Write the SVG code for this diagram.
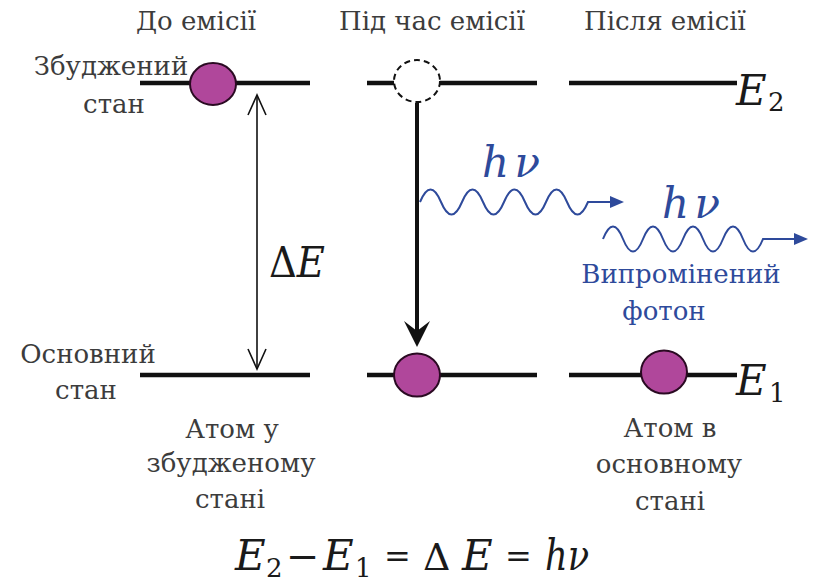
<svg xmlns="http://www.w3.org/2000/svg" width="817" height="582" viewBox="0 0 817 582">
<style>
text{font-family:'DejaVu Serif','Liberation Serif',serif}
.lbl{font-size:26px;fill:#3c3c3c;text-anchor:middle}
.math{font-style:italic;fill:#1a1a1a}
.up{fill:#1a1a1a}
.blue{fill:#2e4a9b}
.lvl{stroke:#111;stroke-width:4.5;fill:none}
.atom{fill:#b0479b;stroke:#2a0a22;stroke-width:2}
.wave{fill:none;stroke:#2e4a9b;stroke-width:2}
</style>
<rect width="817" height="582" fill="#fff"/>
<g id="titles">
<text class="lbl" x="196" y="30">До емісії</text>
<text class="lbl" x="432" y="30">Під час емісії</text>
<text class="lbl" x="665" y="30">Після емісії</text>
</g>
<g id="excited-label">
<text class="lbl" x="111" y="75">Збуджений</text>
<text class="lbl" x="114" y="113">стан</text>
</g>
<g id="ground-label">
<text class="lbl" x="88" y="363">Основний</text>
<text class="lbl" x="86" y="399">стан</text>
</g>
<g id="levels">
<line class="lvl" x1="140" y1="83" x2="310" y2="83"/>
<line class="lvl" x1="367" y1="83" x2="394" y2="83"/>
<line class="lvl" x1="440" y1="83" x2="537" y2="83"/>
<line class="lvl" x1="569" y1="83" x2="737" y2="83"/>
<line class="lvl" x1="140" y1="375" x2="310" y2="375"/>
<line class="lvl" x1="367" y1="375" x2="537" y2="375"/>
<line class="lvl" x1="569" y1="375" x2="737" y2="375"/>
</g>
<g id="E2-label">
<text class="math" x="736" y="105" font-size="42">E</text><text class="up" x="768" y="111" font-size="26">2</text>
</g>
<g id="E1-label">
<text class="math" x="736" y="395" font-size="42">E</text><text class="up" x="769" y="402" font-size="26">1</text>
</g>
<g id="atom-before">
<ellipse class="atom" cx="213" cy="84" rx="23" ry="21"/>
</g>
<g id="atom-during-top">
<ellipse cx="417" cy="81" rx="23" ry="21" fill="#fff" stroke="#111" stroke-width="2" stroke-dasharray="6,4"/>
</g>
<g id="atom-during-bottom">
<ellipse class="atom" cx="417" cy="375" rx="23" ry="21.5"/>
</g>
<g id="atom-after">
<ellipse class="atom" cx="664" cy="372" rx="23" ry="21.5"/>
</g>
<g id="connectors">
<g id="deltaE-arrow" stroke="#111" stroke-width="1.6" fill="none">
<line x1="257" y1="96" x2="257" y2="369"/>
<polyline points="248,115 257,95 266,115"/>
<polyline points="248,349 257,369 266,349"/>
</g>
<g id="transition-arrow">
<line x1="417" y1="103" x2="417" y2="335" stroke="#111" stroke-width="4"/>
<polygon points="417,347 404,321 417,331 430,321" fill="#111"/>
</g>
<g id="photon1">
<path class="wave" d="M420,202 q10.5,-25 21,0 t21,0 t21,0 t21,0 t21,0 t21,0 t21,0 t21,0 L612,202"/>
<polygon class="blue" points="624,202 610,196 610,208"/>
</g>
<g id="photon2">
<path class="wave" d="M603,239 q10,-25 20,0 t20,0 t20,0 t20,0 t20,0 t20,0 t20,0 t20,0 L796,239"/>
<polygon class="blue" points="808,239 794,233 794,245"/>
</g>
</g>
<g id="deltaE-label">
<text class="up" x="269" y="277" font-size="42" textLength="56" lengthAdjust="spacingAndGlyphs">Δ<tspan font-style="italic">E</tspan></text>
</g>
<g id="hv1">
<text class="math blue" x="482" y="177" font-size="42" textLength="58" lengthAdjust="spacing">h<tspan dx="4">ν</tspan></text>
</g>
<g id="hv2">
<text class="math blue" x="662" y="218" font-size="42" textLength="58" lengthAdjust="spacing">h<tspan dx="4">ν</tspan></text>
</g>
<g id="photon-label">
<text class="lbl" x="681" y="283" style="fill:#2e4a9b">Випромінений</text>
<text class="lbl" x="664" y="320" style="fill:#2e4a9b">фотон</text>
</g>
<g id="caption-before">
<text class="lbl" x="232" y="438">Атом у</text>
<text class="lbl" x="231" y="472">збудженому</text>
<text class="lbl" x="230" y="508">стані</text>
</g>
<g id="caption-after">
<text class="lbl" x="670" y="437">Атом в</text>
<text class="lbl" x="669" y="473">основному</text>
<text class="lbl" x="670" y="510">стані</text>
</g>
<g id="formula">
<text class="math" x="235" y="570" font-size="42">E</text><text class="up" x="266" y="577" font-size="26">2</text>
<text class="up" x="286" y="570" font-size="40">−</text>
<text class="math" x="323" y="570" font-size="42">E</text><text class="up" x="355" y="577" font-size="26">1</text>
<text class="up" x="384" y="567" font-size="32">=</text>
<text class="up" x="423" y="570" font-size="38">Δ</text>
<text class="math" x="462" y="570" font-size="42">E</text>
<text class="up" x="505" y="567" font-size="32">=</text>
<text class="math" x="545" y="570" font-size="42" textLength="44" lengthAdjust="spacingAndGlyphs">hν</text>
</g>
</svg>
